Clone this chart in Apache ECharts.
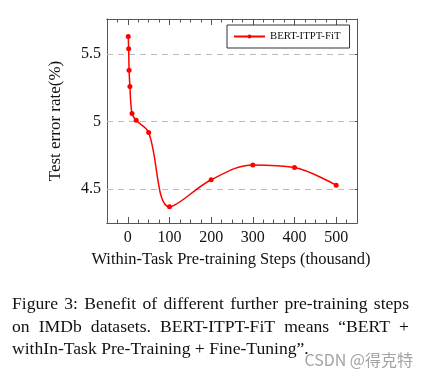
<!DOCTYPE html>
<html>
<head>
<meta charset="utf-8">
<script src="https://cdn.jsdelivr.net/npm/echarts@6/dist/echarts.min.js"></script>
<style>
html,body{margin:0;padding:0;background:#fff;}
#c{width:428px;height:380px;}
</style>
</head>
<body>
<div id="c"></div>
<script>
var steps = [1, 2, 3, 5, 10, 20, 50, 100, 200, 300, 400, 500];
var errorRate = [5.63, 5.54, 5.38, 5.26, 5.06, 5.01, 4.92, 4.37, 4.57, 4.68, 4.66, 4.53];
var xTicks = [0, 100, 200, 300, 400, 500];
var xMinorTicks = [-25, 0, 25, 50, 75, 100, 125, 150, 175, 200, 225, 250, 275, 300, 325, 350, 375, 400, 425, 450, 475, 500, 525];
var yTicks = [4.5, 5, 5.5];
var seriesName = 'BERT-ITPT-FiT';
var xLabel = 'Within-Task Pre-training Steps (thousand)';
var yLabel = 'Test error rate(%)';
var captionLines = [
  'Figure 3: Benefit of different further pre-training steps',
  'on IMDb datasets.  BERT-ITPT-FiT means \u201cBERT +',
  'withIn-Task Pre-Training + Fine-Tuning\u201d.'
];
var watermark = 'CSDN @得克特';

var serif = '"Liberation Serif", "DejaVu Serif", serif';
var chart = echarts.init(document.getElementById('c'));
var frame = '#555';

function xAxisDef(pos, ticks, len, showLabel) {
  return {
    type: 'value', position: pos, min: -50, max: 550,
    axisLine: {show: true, onZero: false, lineStyle: {color: frame, width: 1}},
    axisTick: {show: true, inside: true, length: len, customValues: ticks, lineStyle: {color: frame, width: 1}},
    axisLabel: {show: showLabel, customValues: xTicks, color: '#111', fontFamily: serif, fontSize: 16, margin: 7},
    splitLine: {show: false}
  };
}
function yAxisDef(pos, showLabel) {
  return {
    type: 'value', position: pos, min: 4.25, max: 5.76,
    axisLine: {show: true, onZero: false, lineStyle: {color: frame, width: 1}},
    axisTick: {show: true, inside: true, length: 6, customValues: yTicks, lineStyle: {color: frame, width: 1}},
    axisLabel: {show: showLabel, customValues: yTicks, color: '#111', fontFamily: serif, fontSize: 16, margin: 6,
      formatter: function (v) { return String(v); }},
    splitLine: {show: false}
  };
}

var lineData = steps.map(function (s, i) { return [s, errorRate[i]]; });

// justified caption layout
var capFont = '17.6px ' + serif;
var capLeft = 12, capRight = 409;
var lineY = [304, 327, 349];
var mctx = document.createElement('canvas').getContext('2d');
mctx.font = capFont;
var capGraphics = [];
captionLines.forEach(function (line, li) {
  if (li === captionLines.length - 1) {
    capGraphics.push({type: 'text', x: capLeft, y: lineY[li], style: {text: line, font: capFont, fill: '#111', textVerticalAlign: 'middle'}});
    return;
  }
  var words = line.split(/ +/);
  var total = 0;
  words.forEach(function (w) { total += mctx.measureText(w).width; });
  var gap = (capRight - capLeft - total) / (words.length - 1);
  var x = capLeft;
  words.forEach(function (w) {
    capGraphics.push({type: 'text', x: x, y: lineY[li], style: {text: w, font: capFont, fill: '#111', textVerticalAlign: 'middle'}});
    x += mctx.measureText(w).width + gap;
  });
});

chart.setOption({
  backgroundColor: '#fff',
  animation: false,
  grid: {left: 107, top: 19, width: 250, height: 204, containLabel: false},
  xAxis: [
    xAxisDef('bottom', xTicks, 6, true),
    xAxisDef('top', xTicks, 6, false),
    xAxisDef('bottom', xMinorTicks, 3.5, false),
    xAxisDef('top', xMinorTicks, 3.5, false)
  ],
  yAxis: [
    yAxisDef('left', true),
    yAxisDef('right', false)
  ],
  legend: {
    show: true,
    left: 227, top: 25, width: 123,
    padding: [6, 9, 6, 6],
    itemWidth: 31, itemHeight: 5, itemGap: 6,
    borderColor: '#333', borderWidth: 1, backgroundColor: '#fff',
    textStyle: {fontFamily: serif, fontSize: 10.8, color: '#111'},
    data: [seriesName]
  },
  series: [{
    name: seriesName,
    type: 'line',
    xAxisIndex: 0, yAxisIndex: 0,
    data: lineData,
    smooth: 0.35,
    symbol: 'circle', symbolSize: 5,
    itemStyle: {color: '#ff0000'},
    lineStyle: {color: '#ff0000', width: 1.5},
    z: 5,
    markLine: {
      silent: true, symbol: ['none', 'none'], label: {show: false},
      lineStyle: {color: '#bbb', type: [6, 5], width: 1},
      data: yTicks.map(function (v) { return {yAxis: v}; }),
      z: 1
    }
  }],
  graphic: [
    {type: 'text', x: 56, y: 121, rotation: Math.PI / 2,
     style: {text: yLabel, font: '17px ' + serif, fill: '#111', textAlign: 'center', textVerticalAlign: 'middle'}},
    {type: 'text', x: 231, y: 260, style: {text: xLabel, font: '16.5px ' + serif, fill: '#111', textAlign: 'center', textVerticalAlign: 'middle'}},
    {type: 'text', x: 413, y: 360, style: {text: watermark, font: '16px "Noto Sans CJK SC", "Noto Sans", sans-serif', fill: '#a3a3a3', textAlign: 'right', textVerticalAlign: 'middle'}}
  ].concat(capGraphics)
});
</script>
</body>
</html>
